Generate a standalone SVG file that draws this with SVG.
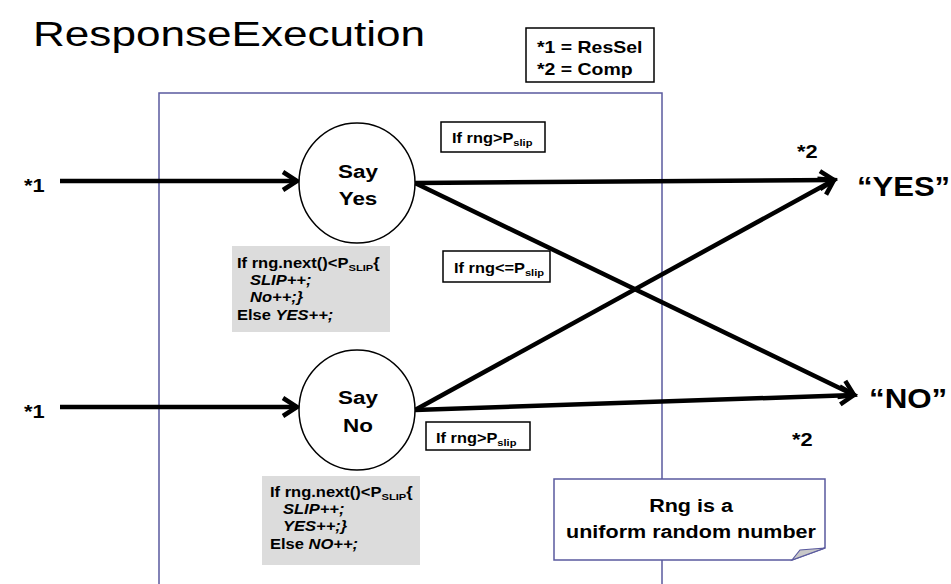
<svg xmlns="http://www.w3.org/2000/svg" width="951" height="584" viewBox="0 0 951 584">
<defs>
<style>
text{font-family:"Liberation Sans",Arial,sans-serif;font-weight:bold;fill:#000}
.title{font-weight:normal;font-size:35px}
.lbl{font-size:14px}
.code{font-size:14px}
.sub{font-size:9.5px}
.big{font-size:27px}
.mid{font-size:19px}
.node{fill:#fff;stroke:#000;stroke-width:1.5}
.box{fill:#fff;stroke:#000;stroke-width:1.5}
.gray{fill:#dcdcdc;stroke:none}
.conn{stroke:#000;stroke-width:4.5;fill:none;marker-end:url(#ah)}
</style>
<marker id="ah" markerUnits="userSpaceOnUse" markerWidth="30" markerHeight="30" refX="0" refY="0" viewBox="-20 -15 30 30" orient="auto" overflow="visible">
<path d="M-14,-9 L0,0 L-14,9" fill="none" stroke="#000" stroke-width="4.5" stroke-linejoin="miter"/>
</marker>
</defs>
<rect width="951" height="584" fill="#fff"/>
<text class="title" transform="translate(33,46) scale(1.26,1)">ResponseExecution</text>
<g id="legend">
<rect x="526" y="28" width="128" height="54" class="box"/>
<text class="lbl" style="font-size:16.5px" transform="translate(537,53) scale(1.18,1)">*1 = ResSel</text>
<text class="lbl" style="font-size:16.5px" transform="translate(537,75) scale(1.18,1)">*2 = Comp</text>
</g>
<g id="frame">
<rect x="159" y="93" width="503" height="520" fill="none" stroke="#5a5a9e" stroke-width="1.5"/>
</g>
<g id="connectors">
<line x1="60" y1="181" x2="297" y2="181" class="conn"/>
<line x1="60" y1="407" x2="297" y2="407" class="conn"/>
<line x1="415" y1="183" x2="834" y2="180" class="conn"/>
<line x1="415" y1="183" x2="854" y2="395" class="conn"/>
<line x1="415" y1="410" x2="834" y2="180" class="conn"/>
<line x1="415" y1="410" x2="854" y2="395" class="conn"/>
</g>
<g id="in1">
<text class="mid" transform="translate(24,192) scale(1.15,1)">*1</text>
</g>
<g id="in2">
<text class="mid" transform="translate(24,418) scale(1.15,1)">*1</text>
</g>
<g id="sayYes">
<ellipse cx="357" cy="183" rx="58" ry="60" class="node"/>
<text class="mid" text-anchor="middle" transform="translate(358,178) scale(1.18,1)">Say</text>
<text class="mid" text-anchor="middle" transform="translate(358,205) scale(1.18,1)">Yes</text>
</g>
<g id="sayNo">
<ellipse cx="357" cy="410" rx="58" ry="60" class="node"/>
<text class="mid" text-anchor="middle" transform="translate(358,404) scale(1.18,1)">Say</text>
<text class="mid" text-anchor="middle" transform="translate(358,432) scale(1.18,1)">No</text>
</g>
<g id="outYes">
<text class="big" transform="translate(857,196) scale(1.15,1)">“YES”</text>
<text class="mid" transform="translate(797,158) scale(1.15,1)">*2</text>
</g>
<g id="outNo">
<text class="big" transform="translate(869,408) scale(1.16,1)">“NO”</text>
<text class="mid" transform="translate(792,446) scale(1.15,1)">*2</text>
</g>
<g id="cond1">
<rect x="441" y="122" width="104" height="30" class="box"/>
<text class="lbl" transform="translate(452,143) scale(1.17,1)">If rng&gt;P<tspan class="sub" dy="3">slip</tspan></text>
</g>
<g id="cond2">
<rect x="443" y="251" width="107" height="31" class="box"/>
<text class="lbl" transform="translate(454,273) scale(1.17,1)">If rng&lt;=P<tspan class="sub" dy="3">slip</tspan></text>
</g>
<g id="cond3">
<rect x="426" y="422" width="104" height="28" class="box"/>
<text class="lbl" transform="translate(436,443) scale(1.17,1)">If rng&gt;P<tspan class="sub" dy="3">slip</tspan></text>
</g>
<g id="code1">
<rect x="232" y="246" width="158" height="86" class="gray"/>
<text class="code" transform="translate(237,268) scale(1.18,1)">If rng.next()&lt;P<tspan class="sub" dy="3">SLIP</tspan><tspan dy="-3">{</tspan></text>
<text class="code" font-style="italic" transform="translate(250,285) scale(1.18,1)">SLIP++;</text>
<text class="code" font-style="italic" transform="translate(250,302) scale(1.18,1)">No++;}</text>
<text class="code" transform="translate(237,320) scale(1.18,1)">Else <tspan font-style="italic">YES++;</tspan></text>
</g>
<g id="code2">
<rect x="262" y="476" width="158" height="89" class="gray"/>
<text class="code" transform="translate(270,497) scale(1.18,1)">If rng.next()&lt;P<tspan class="sub" dy="3">SLIP</tspan><tspan dy="-3">{</tspan></text>
<text class="code" font-style="italic" transform="translate(283,514) scale(1.18,1)">SLIP++;</text>
<text class="code" font-style="italic" transform="translate(283,531) scale(1.18,1)">YES++;}</text>
<text class="code" transform="translate(270,549) scale(1.18,1)">Else <tspan font-style="italic">NO++;</tspan></text>
</g>
<g id="note">
<path d="M554,479 L825,479 L825,548 L792,560 L554,560 Z" fill="#fff" stroke="#5a5a9e" stroke-width="1.5"/>
<path d="M792,560 L800,550 L825,548 Z" fill="#c8c8c8" stroke="#5a5a9e" stroke-width="1.2"/>
<text class="mid" style="font-size:17.5px" text-anchor="middle" transform="translate(691,512) scale(1.23,1)">Rng is a</text>
<text class="mid" style="font-size:17.5px" text-anchor="middle" transform="translate(691,538) scale(1.23,1)">uniform random number</text>
</g>
</svg>
